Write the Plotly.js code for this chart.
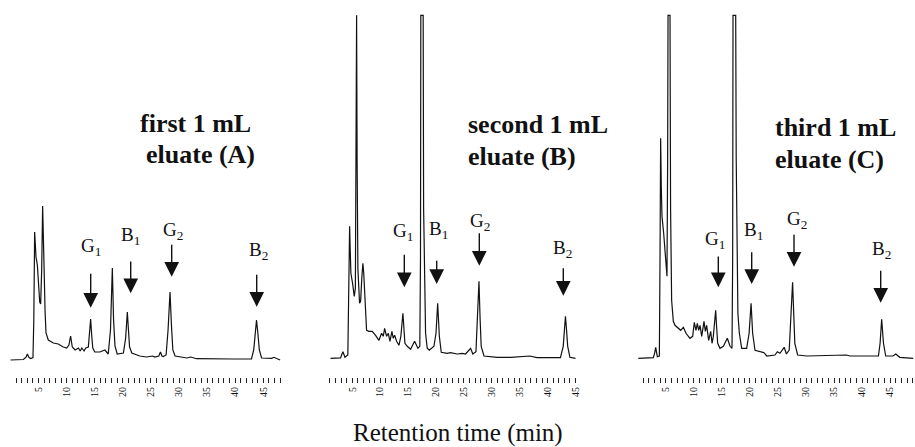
<!DOCTYPE html>
<html>
<head>
<meta charset="utf-8">
<script src="https://cdn.plot.ly/plotly-3.0.1.min.js"></script>
<style>html,body{margin:0;padding:0;background:#fff;}#chart{width:915px;height:447px;}</style>
</head>
<body>
<div id="chart"></div>
<script>
// ---------- DATA (retention time in min, detector response in arbitrary units) ----------
var timeA = [0,2.3,2.8,3.0,3.3,3.6,4.0,4.15,4.3,4.42,4.54,4.78,5.01,5.2,5.37,5.55,5.72,5.85,5.96,6.15,6.32,6.73,7.63,8.5,9.4,10.0,10.4,10.7,11.0,11.5,12.1,12.4,12.7,13.1,13.4,13.86,14.05,14.27,14.45,14.65,15.0,15.9,16.8,17.4,17.8,18.13,18.35,18.6,19.0,20.1,20.5,20.8,21.0,21.2,21.6,23.0,24.2,25.3,25.7,26.4,26.7,26.95,27.2,27.7,28.05,28.4,28.65,28.9,29.3,31.4,32.1,33.1,39.7,42.9,43.3,43.55,43.8,44.05,44.3,44.7,46.5,46.9,48];
var respA = [0,0.5,3,6,2.5,1.5,2.5,40,128,112,103,95,67,58,56,90,154,130,97,50,27,20,17,16,13,12,15,24,13,10,12,9,12,9,12,13,25,41,25,12,8,8,10,6,30,92,40,14,6,7,22,48,30,13,7,4,3,4,3,4,8,4,3.5,5,30,68,35,10,4,2,3,1.3,1,1,10,28,40,26,10,2,1.7,2.7,0];

var timeB = [1.1,2.9,3.32,3.68,4.2,4.4,4.52,4.62,4.75,5.05,5.35,5.55,5.68,5.77,5.86,6.0,6.3,6.49,6.7,6.9,7.05,7.2,7.56,7.98,8.57,9.17,9.77,10.25,10.55,10.79,11.15,11.45,11.75,12.1,12.34,12.58,12.94,13.36,13.7,13.88,14.07,14.25,14.43,14.85,15.44,16.16,16.76,17.1,17.22,17.28,17.7,17.78,17.95,18.13,18.43,18.8,19.63,20.0,20.3,20.45,20.6,20.94,22.0,22.6,23.8,24.7,25.3,26.2,26.6,27.16,27.45,27.7,27.9,28.1,28.6,31.0,33.4,36.8,38.1,42.3,42.8,43.0,43.2,43.4,43.6,44.0,45.0];
var respB = [0,0.5,6.7,1,3.3,60,132,110,85,75,62,70,200,343,200,90,55,57,80,95,85,65,28,27,27,23,18,25,22,30,22,25,17,27,20,23,17,13,22,33,45,30,15,12,9,17,10,12,100,343,343,150,60,25,10,8,12,25,55,40,22,6,5,5.6,4.3,5,4.3,10,4.3,6.6,40,77,40,12,2.3,1,1,2.3,0.6,0.6,12,28,42,28,12,1,0];

var timeC = [0.1,2.78,3.0,3.2,3.49,3.85,3.97,4.08,4.2,4.32,4.62,4.92,5.21,5.33,5.4,5.75,5.85,6.04,6.34,6.64,7.23,7.65,8.13,8.6,9.31,9.79,10.08,10.38,10.62,10.86,11.1,11.4,11.81,12.05,12.28,12.64,13.0,13.24,13.47,13.7,13.89,14.05,14.25,14.66,15.26,15.97,16.45,16.8,16.92,16.98,17.46,17.55,17.7,17.85,18.11,18.53,19.41,19.85,20.2,20.34,20.48,20.9,21.8,22.5,23.0,24.46,24.88,25.35,26.1,26.5,27.0,27.3,27.6,27.8,28.0,28.5,30.1,37.2,37.8,42.9,43.2,43.48,43.8,44.2,45.5,46.0,46.7,49.1];
var respC = [0,0.6,5,11,1.6,2.3,100,220,170,142,125,98,82,200,343,343,150,58,37,33,30,28,31,25,20,22,36,28,35,28,33,22,37,27,33,18,27,15,22,35,48,32,15,10,12,20,12,10,100,343,343,200,90,45,25,10,10,25,55,40,25,8,6.6,5.6,2.3,3.3,6.6,5,11,4.3,8.3,40,76,45,15,3.3,2.3,3.3,2.3,2.3,15,39,15,2.3,2.3,4.3,1,0];

var tickLabelVals = [5,10,15,20,25,30,35,40,45];
var tickLabelText = ["5","10","15","20","25","30","35","40","45"];
var minorTicksA = [1,2,3,4,6,7,8,9,11,12,13,14,16,17,18,19,21,22,23,24,26,27,28,29,31,32,33,34,36,37,38,39,41,42,43,44,46,47,48];
var minorTicksB = [1,2,3,4,6,7,8,9,11,12,13,14,16,17,18,19,21,22,23,24,26,27,28,29,31,32,33,34,36,37,38,39,41,42,43,44];
var minorTicksC = [1,2,3,4,6,7,8,9,11,12,13,14,16,17,18,19,21,22,23,24,26,27,28,29,31,32,33,34,36,37,38,39,41,42,43,44,46,47,48,49];

var panelTitles = [["first 1 mL","eluate (A)"],["second 1 mL","eluate (B)"],["third 1 mL","eluate (C)"]];
var peakNames = ["G<sub>1</sub>","B<sub>1</sub>","G<sub>2</sub>","B<sub>2</sub>"];
var xTitle = "Retention time (min)";

// ---------- LAYOUT GEOMETRY (pixels) ----------
var W = 915, H = 447;
var geo = [
  {x0: 10.5, k: 5.617, base: 360.0, d0: 0,   d1: 305},
  {x0: 324.4, k: 5.58, base: 358.3, d0: 305, d1: 625},
  {x0: 637.75, k: 5.61, base: 358.3, d0: 625, d1: 915}
];
var axisPx = 377;
function px(x){ return x / W; }
function py(y){ return 1 - y / H; }

var serif = 'Liberation Serif, Times New Roman, serif';

var series = [[timeA, respA, minorTicksA], [timeB, respB, minorTicksB], [timeC, respC, minorTicksC]];
var traces = [];
var layout = {
  width: W, height: H,
  margin: {l:0, r:0, t:0, b:0},
  paper_bgcolor: '#fff', plot_bgcolor: '#fff',
  showlegend: false,
  annotations: []
};

series.forEach(function(s, i){
  var g = geo[i];
  var n = i === 0 ? '' : String(i + 1);
  traces.push({
    x: s[0], y: s[1], type: 'scatter', mode: 'lines',
    xaxis: 'x' + n, yaxis: 'y' + n,
    line: {color: '#111', width: 1.2},
    hoverinfo: 'skip'
  });
  layout['xaxis' + n] = {
    domain: [px(g.d0), px(g.d1)],
    range: [(g.d0 - g.x0) / g.k, (g.d1 - g.x0) / g.k],
    anchor: 'free', position: py(axisPx),
    showgrid: false, zeroline: false, showline: false,
    tickmode: 'array', tickvals: tickLabelVals, ticktext: tickLabelText,
    ticks: 'outside', ticklen: 5, tickwidth: 1, tickcolor: '#222',
    tickangle: -90,
    tickfont: {family: 'Liberation Serif, serif', size: 10, color: '#111'},
    minor: {tickmode: 'array', tickvals: s[2], ticks: 'outside', ticklen: 5, tickwidth: 1, tickcolor: '#222', showgrid: false},
    fixedrange: true
  };
  layout['yaxis' + n] = {
    domain: [0, 1],
    range: [-(H - g.base), g.base],
    visible: false, showgrid: false, zeroline: false, fixedrange: true,
    anchor: 'x' + n
  };
});

var titlePos = [
  [[138, 123.2], [144, 154.2]],
  [[466, 124.2], [466, 156.2]],
  [[773, 127.2], [773, 159.2]]
];
panelTitles.forEach(function(lines, i){
  lines.forEach(function(t, j){
    layout.annotations.push({
      xref: 'paper', yref: 'paper', x: px(titlePos[i][j][0]), y: py(titlePos[i][j][1]),
      xanchor: 'left', yanchor: 'middle', showarrow: false,
      text: '<b>' + t + '</b>', font: {family: serif, size: 26, color: '#111'}
    });
  });
});

var arrows = [
  [[90.7,272.3,307.7],[130.7,260,293.3],[171.7,243.3,276.7],[256.7,273.3,306.7]],
  [[404.3,253.3,287.3],[436.7,259.3,284],[479.3,231.7,265.7],[563.3,266.7,295.7]],
  [[718.3,255,287.3],[751.7,250.7,284],[794,233.3,266.7],[880.7,269.3,302.7]]
];
var labels = [
  [[90.8,245],[130.3,234.3],[173,228.7],[258.3,248.8]],
  [[403,230],[438,228.3],[480,220],[562.3,247.3]],
  [[715,238.3],[753.3,229.3],[796.7,218.3],[881.7,248.3]]
];
arrows.forEach(function(panel, i){
  panel.forEach(function(a, j){
    layout.annotations.push({
      xref: 'paper', yref: 'paper', x: px(a[0]), y: py(a[2]),
      ax: 0, ay: -(a[2] - a[1]), text: '',
      showarrow: true, arrowhead: 2, arrowsize: 2.1, arrowwidth: 1.4, arrowcolor: '#111', standoff: 0
    });
    var l = labels[i][j];
    layout.annotations.push({
      xref: 'paper', yref: 'paper', x: px(l[0]), y: py(l[1] + 2),
      xanchor: 'center', yanchor: 'middle', showarrow: false,
      text: peakNames[j], font: {family: serif, size: 19, color: '#111'}
    });
  });
});

layout.annotations.push({
  xref: 'paper', yref: 'paper', x: px(458), y: py(433.3),
  xanchor: 'center', yanchor: 'middle', showarrow: false,
  text: xTitle, font: {family: serif, size: 25, color: '#111'}
});

Plotly.newPlot('chart', traces, layout, {staticPlot: true, displayModeBar: false});
</script>
</body>
</html>
